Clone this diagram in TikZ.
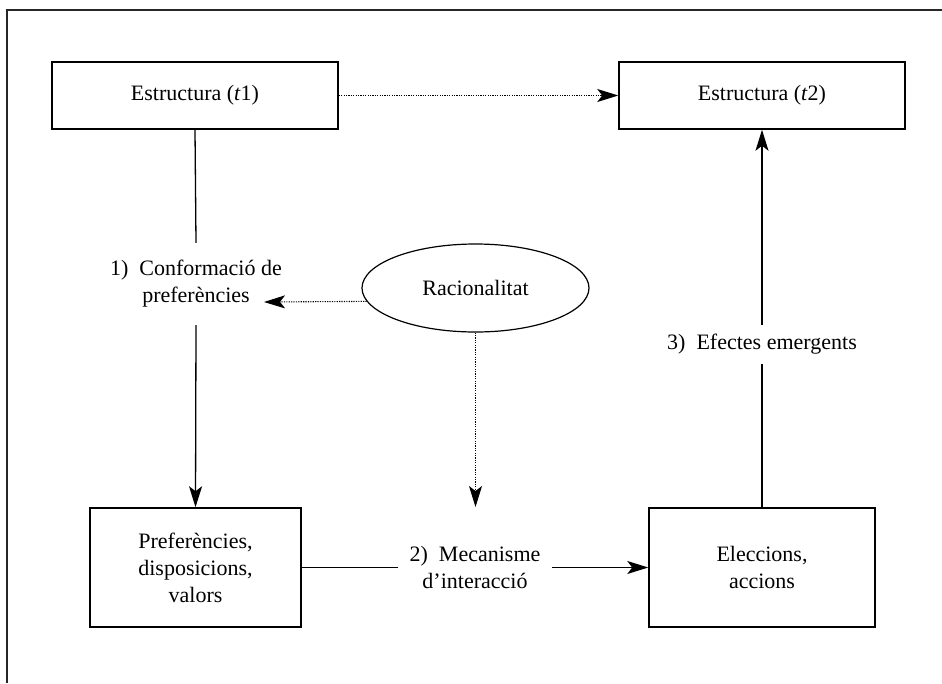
\documentclass[tikz,border=0pt]{standalone}
\usepackage{fontspec}
\setmainfont{Liberation Serif}
\usetikzlibrary{arrows.meta,shapes.geometric}
\begin{document}
\begin{tikzpicture}[x=1pt,y=-1pt,
  every node/.style={font=\fontsize{22}{27}\selectfont},
  box/.style={draw,line width=1.5pt,inner sep=0pt,align=center},
  lbl/.style={inner sep=0pt,align=center},
  conn/.style={line width=1.3pt},
  tip/.style={-{Stealth[length=21pt,width=13pt,inset=5pt]}},
  arr/.style={conn,tip},
  dotarr/.style={line width=1.1pt,dash pattern=on 1.2pt off 1.2pt,tip}
]
\useasboundingbox (0,0) rectangle (942,683);
% frame
\draw[line width=1.6pt,black!85] (7,683) -- (7,10) -- (942,10);

% boxes
\node[box,minimum width=286pt,minimum height=67pt] (t1) at (195,95.5) {Estructura (\textit{t}1)};
\node[box,minimum width=286pt,minimum height=67pt] (t2) at (762,95.5) {Estructura (\textit{t}2)};
\node[box,minimum width=211pt,minimum height=119pt] (pref) at (195.5,567.5) {Preferències,\\disposicions,\\valors};
\node[box,minimum width=226pt,minimum height=119pt] (elec) at (762,567.5) {Eleccions,\\accions};
\node[draw,ellipse,line width=1.2pt,inner sep=0pt,minimum width=227pt,minimum height=88pt] (rac) at (475.5,288) {Racionalitat};

% labels
\node[lbl,minimum height=82pt] (conf) at (196,284) {1)\enspace Conformació de\\preferències};
\node[lbl,minimum width=154pt] (mech) at (475,567.5) {2)\enspace Mecanisme\\d’interacció};
\node[lbl,minimum height=39pt] (efl) at (762,344.5) {3)\enspace Efectes emergents};

% free ends
\coordinate (confin) at (264,302);
\coordinate (mechin) at (475.5,507);

% connectors
\draw[dotarr] (t1.east) -- (t2.west);
\draw[conn] (t1.south) -- (conf.north);
\draw[arr] (conf.south) -- (pref.north);
\draw[dotarr] (rac.187.4) -- (confin);
\draw[dotarr] (rac.south) -- (mechin);
\draw[conn] (pref.east) -- (mech.west);
\draw[arr] (mech.east) -- (elec.west);
\draw[conn] (elec.north) -- (efl.south);
\draw[arr] (efl.north) -- (t2.south);
\end{tikzpicture}
\end{document}
